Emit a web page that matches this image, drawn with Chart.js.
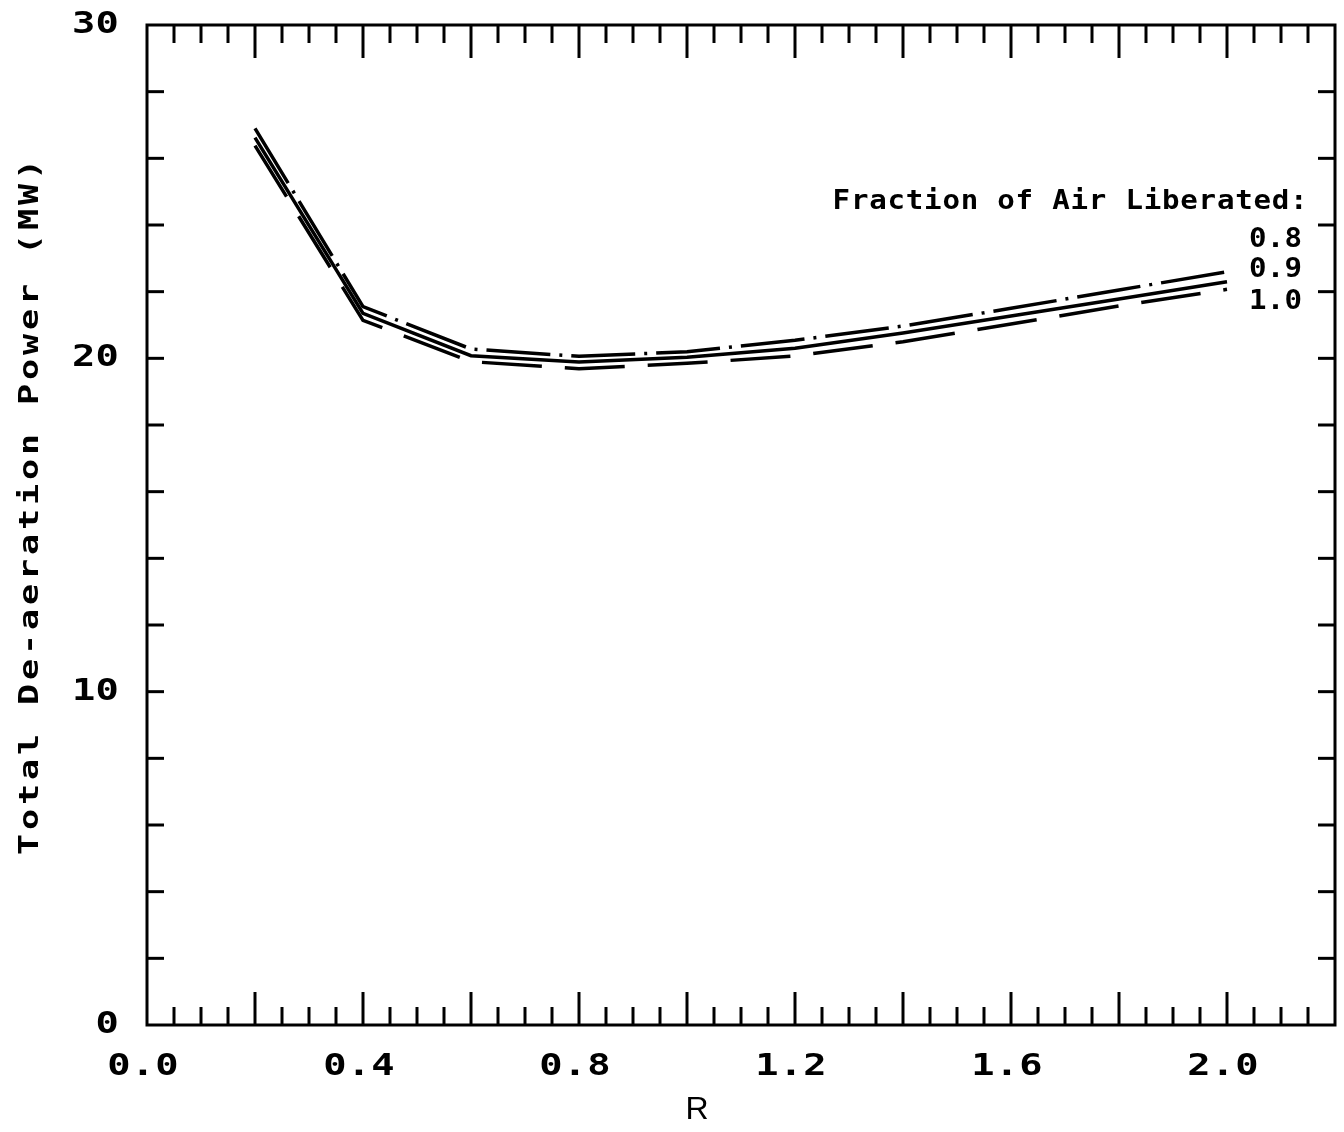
<!DOCTYPE html>
<html>
<head>
<meta charset="utf-8">
<script src="https://cdn.jsdelivr.net/npm/chart.js@4.4.0/dist/chart.umd.min.js"></script>
<style>
    body { margin: 0; background: #fff; }
    #contenedor { width: 1344px; height: 1132px; }
</style>
</head>
<body>
<div id="contenedor"><canvas id="graficoPotencia" width="1344" height="1132"></canvas></div>
<script>
// Datos de la grafica
const valoresR = [0.2, 0.4, 0.6, 0.8, 1.0, 1.2, 1.4, 1.6, 1.8, 2.0];
const potencia08 = [26.9, 21.55, 20.28, 20.06, 20.2, 20.54, 20.97, 21.5, 22.05, 22.6];
const potencia09 = [26.62, 21.35, 20.08, 19.89, 20.03, 20.3, 20.76, 21.27, 21.78, 22.3];
const potencia10 = [26.38, 21.14, 19.9, 19.69, 19.85, 20.07, 20.5, 21.03, 21.57, 22.07];
const etiquetasSerie = ['0.8', '0.9', '1.0'];
const ticksX = ['0.0', '0.4', '0.8', '1.2', '1.6', '2.0'];
const ticksY = ['0', '10', '20', '30'];
const tituloLeyenda = 'Fraction of Air Liberated:';
const tituloX = 'R';
const tituloY = 'Total De-aeration Power (MW)';

document.addEventListener("DOMContentLoaded", () => {

    const grafico = document.querySelector("#graficoPotencia");

    const puntos = (serie) => valoresR.map((r, i) => ({ x: r, y: serie[i] }));

    // Texto monoespaciado letra por letra con paso fijo y letras ensanchadas
    function texto(ctx, str, x, y, fuente, paso, alinear, estirar) {
        ctx.font = fuente;
        ctx.textAlign = 'center';
        ctx.textBaseline = 'middle';
        const ancho = str.length * paso;
        let inicio = x;
        if (alinear === 'right') inicio = x - ancho;
        if (alinear === 'center') inicio = x - ancho / 2;
        for (let i = 0; i < str.length; i++) {
            ctx.save();
            ctx.translate(inicio + (i + 0.5) * paso, y);
            ctx.scale(estirar, 1);
            ctx.fillText(str[i], 0, 0);
            ctx.restore();
        }
    }

    function linea(ctx, x1, y1, x2, y2) {
        ctx.beginPath();
        ctx.moveTo(x1, y1);
        ctx.lineTo(x2, y2);
        ctx.stroke();
    }

    // Marco, marcas hacia adentro y todos los textos
    const marco = {
        id: 'marco',
        afterDraw(chart) {
            const ctx = chart.ctx;
            const { left, right, top, bottom } = chart.chartArea;
            const ejeX = chart.scales.x;
            const ejeY = chart.scales.y;
            const mono = '"DejaVu Sans Mono", monospace';

            ctx.save();
            ctx.strokeStyle = '#000';
            ctx.fillStyle = '#000';
            ctx.lineWidth = 3;
            ctx.strokeRect(left, top, right - left, bottom - top);

            for (let i = 1; i * 0.05 < ejeX.max - 0.01; i++) {
                const px = ejeX.getPixelForValue(i * 0.05);
                const largo = i % 4 === 0 ? 33 : 18;
                linea(ctx, px, bottom, px, bottom - largo);
                linea(ctx, px, top, px, top + largo);
            }
            for (let v = 2; v < ejeY.max; v += 2) {
                const py = ejeY.getPixelForValue(v);
                linea(ctx, left, py, left + 17, py);
                linea(ctx, right, py, right - 17, py);
            }

            ticksX.forEach(t => {
                const px = ejeX.getPixelForValue(parseFloat(t));
                texto(ctx, t, px - 4, 1067, 'bold 31px ' + mono, 24, 'center', 1.25);
            });
            ticksY.forEach(t => {
                const py = ejeY.getPixelForValue(parseFloat(t));
                texto(ctx, t, 119, py, 'bold 31px ' + mono, 23.5, 'right', 1.25);
            });

            ctx.font = '32px "Liberation Sans", sans-serif';
            ctx.textAlign = 'center';
            ctx.textBaseline = 'middle';
            ctx.fillText(tituloX, 697, 1110);

            ctx.save();
            ctx.translate(31, 507);
            ctx.rotate(-Math.PI / 2);
            texto(ctx, tituloY, 0, 0, 'bold 27px ' + mono, 25, 'center', 1.3);
            ctx.restore();

            texto(ctx, tituloLeyenda, 1308, 202, 'bold 26px ' + mono, 18.3, 'right', 1.12);
            const alturas = [240, 270, 302];
            etiquetasSerie.forEach((e, i) => {
                texto(ctx, e, 1302, alturas[i], 'bold 26px ' + mono, 17.7, 'right', 1.12);
            });
            ctx.restore();
        }
    };

    const serie = (datos, guiones) => ({
        data: puntos(datos),
        borderColor: '#000',
        borderWidth: 3.5,
        borderDash: guiones,
        pointRadius: 0,
        tension: 0,
        fill: false
    });

    new Chart(grafico, {
        type: 'line',
        data: {
            datasets: [
                serie(potencia08, [64, 9, 3, 9]),
                serie(potencia09, []),
                serie(potencia10, [60, 23])
            ]
        },
        options: {
            responsive: false,
            animation: false,
            layout: { padding: { left: 147, right: 9, top: 25, bottom: 107 } },
            plugins: { legend: { display: false }, tooltip: { enabled: false } },
            scales: {
                x: { type: 'linear', min: 0, max: 2.2, display: false },
                y: { type: 'linear', min: 0, max: 30, display: false }
            }
        },
        plugins: [marco]
    });

});
</script>
</body>
</html>
